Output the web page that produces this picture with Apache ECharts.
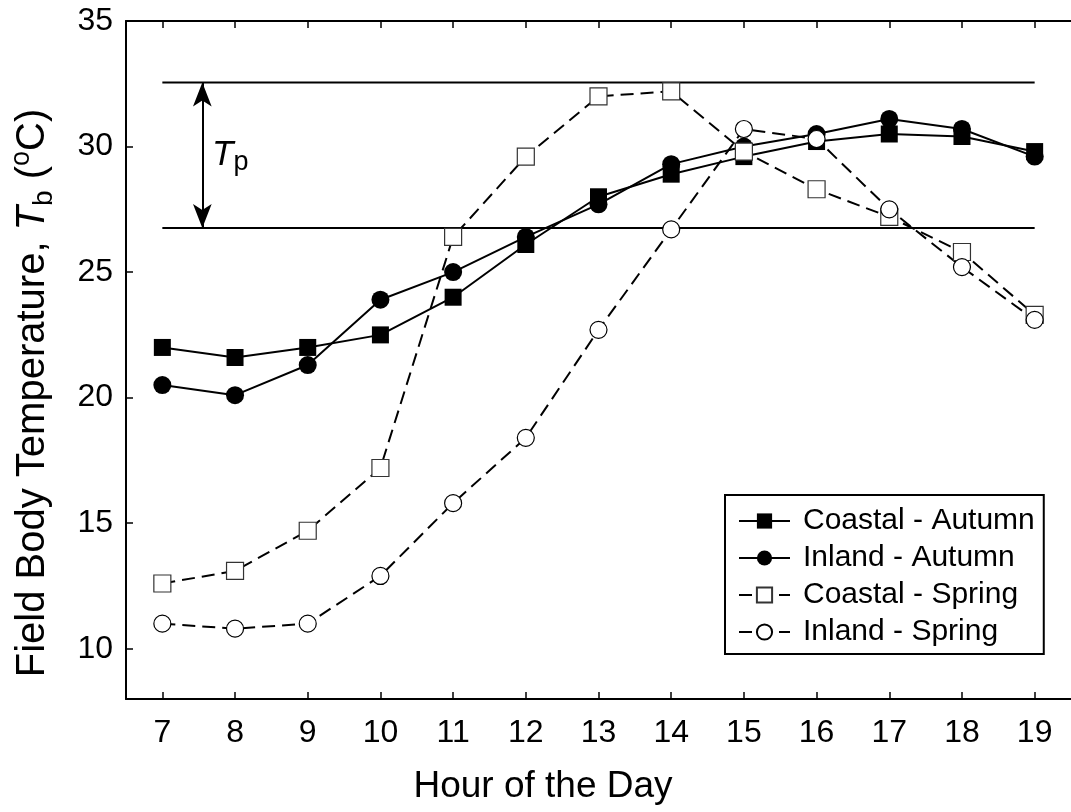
<!DOCTYPE html>
<html>
<head>
<meta charset="utf-8">
<script src="https://cdn.jsdelivr.net/npm/echarts@6/dist/echarts.min.js"></script>
<style>
html,body{margin:0;padding:0;background:#fff;}
#chart{width:1071px;height:812px;}
</style>
</head>
<body>
<div id="chart"></div>
<script>
// ---- data ----
const hours = [7, 8, 9, 10, 11, 12, 13, 14, 15, 16, 17, 18, 19];
const coastalAutumn = [22.0, 21.6, 22.0, 22.5, 24.0, 26.1, 28.0, 28.9, 29.6, 30.2, 30.5, 30.4, 29.8];
const inlandAutumn  = [20.5, 20.1, 21.3, 23.9, 25.0, 26.4, 27.7, 29.3, 30.0, 30.5, 31.1, 30.7, 29.6];
const coastalSpring = [12.6, 13.1, 14.7, 17.2, 26.4, 29.6, 32.0, 32.2, 29.8, 28.3, 27.2, 25.8, 23.3];
const inlandSpring  = [11.0, 10.8, 11.0, 12.9, 15.8, 18.4, 22.7, 26.7, 30.7, 30.3, 27.5, 25.2, 23.1];
const seriesNames = ['Coastal - Autumn', 'Inland - Autumn', 'Coastal - Spring', 'Inland - Spring'];
const xTicks = [7, 8, 9, 10, 11, 12, 13, 14, 15, 16, 17, 18, 19];
const yTicks = [10, 15, 20, 25, 30, 35];
const tpLow = 26.76;
const tpHigh = 32.55;
const tpStartHour = 7;
const tpEndHour = 19;
const tpArrowHour = 7.55;

const FONT = '"Liberation Sans", Arial, sans-serif';
const pair = (vals) => hours.map((h, i) => [h, vals[i]]);

const chart = echarts.init(document.getElementById('chart'), null, {renderer: 'canvas'});

const axisCommon = {
  type: 'value',
  min: 6.5,
  max: 19.5,
  splitLine: {show: false},
  axisLine: {show: true, onZero: false, lineStyle: {color: '#000', width: 2}},
};

const option = {
  animation: false,
  backgroundColor: '#fff',
  grid: {left: 126, top: 21, right: -7, bottom: 113, containLabel: false},
  xAxis: [
    Object.assign({}, axisCommon, {
      position: 'bottom',
      axisTick: {show: true, inside: true, length: 7, lineStyle: {color: '#000', width: 1.5}, customValues: xTicks},
      axisLabel: {show: true, customValues: xTicks, margin: 18, color: '#000', fontSize: 32, fontFamily: FONT}
    }),
    Object.assign({}, axisCommon, {
      position: 'top',
      axisTick: {show: true, inside: true, length: 7, lineStyle: {color: '#000', width: 1.5}, customValues: xTicks},
      axisLabel: {show: false}
    })
  ],
  yAxis: {
    type: 'value',
    min: 8,
    max: 35,
    splitLine: {show: false},
    axisLine: {show: true, onZero: false, lineStyle: {color: '#000', width: 2}},
    axisTick: {show: true, inside: true, length: 7, lineStyle: {color: '#000', width: 1.5}, customValues: yTicks},
    axisLabel: {show: true, customValues: yTicks, margin: 13, color: '#000', fontSize: 32, fontFamily: FONT}
  },
  legend: {
    data: seriesNames,
    orient: 'vertical',
    left: 725,
    top: 495,
    padding: [11, 9, 7, 13],
    itemWidth: 51,
    itemHeight: 19,
    itemGap: 7,
    backgroundColor: '#fff',
    borderColor: '#000',
    borderWidth: 2,
    borderRadius: 0,
    selectedMode: false,
    textStyle: {color: '#000', fontSize: 30, fontFamily: FONT, padding: [0, 0, 0, 8]}
  },
  series: [
    {
      name: 'Tp upper',
      type: 'line',
      data: [[tpStartHour, tpHigh], [tpEndHour, tpHigh]],
      symbol: 'none',
      silent: true,
      lineStyle: {color: '#000', width: 2},
      z: 1
    },
    {
      name: 'Tp lower',
      type: 'line',
      data: [[tpStartHour, tpLow], [tpEndHour, tpLow]],
      symbol: 'none',
      silent: true,
      lineStyle: {color: '#000', width: 2},
      z: 1,
      markLine: {
        silent: true,
        symbol: ['arrow', 'arrow'],
        symbolSize: [14, 24],
        label: {show: false},
        lineStyle: {color: '#000', width: 2, type: 'solid'},
        data: [[{coord: [tpArrowHour, tpLow]}, {coord: [tpArrowHour, tpHigh]}]]
      }
    },
    {
      name: seriesNames[0],
      type: 'line',
      data: pair(coastalAutumn),
      symbol: 'rect',
      symbolSize: 17,
      itemStyle: {color: '#000', borderColor: '#000', borderWidth: 0},
      lineStyle: {color: '#000', width: 2, type: 'solid'},
      z: 2
    },
    {
      name: seriesNames[1],
      type: 'line',
      data: pair(inlandAutumn),
      symbol: 'circle',
      symbolSize: 18,
      itemStyle: {color: '#000', borderColor: '#000', borderWidth: 0},
      lineStyle: {color: '#000', width: 2, type: 'solid'},
      z: 2
    },
    {
      name: seriesNames[2],
      type: 'line',
      data: pair(coastalSpring),
      symbol: 'rect',
      symbolSize: 17,
      itemStyle: {color: '#fff', borderColor: '#333', borderWidth: 1.2},
      lineStyle: {color: '#000', width: 2, type: [13, 7]},
      z: 3
    },
    {
      name: seriesNames[3],
      type: 'line',
      data: pair(inlandSpring),
      symbol: 'circle',
      symbolSize: 17,
      itemStyle: {color: '#fff', borderColor: '#000', borderWidth: 1.2},
      lineStyle: {color: '#000', width: 2, type: [13, 7]},
      z: 3
    }
  ],
  graphic: [
    {
      type: 'text',
      left: 212,
      top: 138,
      style: {
        text: '{it|T}{sub|p}',
        fill: '#000',
        font: '35px ' + FONT,
        rich: {
          it: {fontStyle: 'italic', fontSize: 35, fontFamily: FONT, lineHeight: 42, verticalAlign: 'middle'},
          sub: {fontSize: 27, fontFamily: FONT, lineHeight: 42, verticalAlign: 'bottom'}
        }
      }
    },
    {
      type: 'text',
      x: 543,
      y: 787,
      style: {
        text: 'Hour of the Day',
        fill: '#000',
        font: '37px ' + FONT,
        align: 'center',
        verticalAlign: 'middle'
      }
    },
    {
      type: 'text',
      x: 33,
      y: 393,
      rotation: Math.PI / 2,
      style: {
        text: 'Field Body Temperature, {it|T}{sub|b} ({sup|o}C)',
        fill: '#000',
        font: '40px ' + FONT,
        align: 'center',
        verticalAlign: 'middle',
        rich: {
          it: {fontStyle: 'italic', fontSize: 40, fontFamily: FONT, lineHeight: 50, verticalAlign: 'middle'},
          sub: {fontSize: 28, fontFamily: FONT, lineHeight: 50, verticalAlign: 'bottom'},
          sup: {fontSize: 27, fontFamily: FONT, lineHeight: 50, verticalAlign: 'top'}
        }
      }
    }
  ]
};

chart.setOption(option);
</script>
</body>
</html>
